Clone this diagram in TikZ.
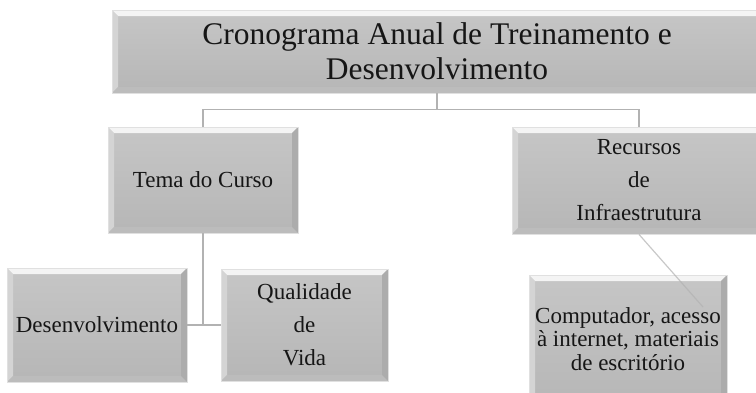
\documentclass[tikz,border=0pt]{standalone}
\usepackage{fontspec}
\setmainfont{Liberation Serif}
\definecolor{boxtop}{RGB}{198,198,198}
\definecolor{boxbot}{RGB}{182,182,182}
\definecolor{bevlight}{RGB}{244,244,244}
\definecolor{bevleft}{RGB}{212,212,212}
\definecolor{bevright}{RGB}{172,172,172}
\definecolor{bevbot}{RGB}{188,188,188}
\definecolor{linecol}{RGB}{178,178,178}
\definecolor{txt}{RGB}{22,22,22}
\tikzset{
  bevelbox/.style={rectangle, inner sep=0pt, draw=black!12, line width=0.8pt,
    top color=boxtop, bottom color=boxbot, text=txt, align=center,
    font=\fontsize{23}{33}\selectfont,
    path picture={
      \fill[bevlight] (path picture bounding box.north west) -- (path picture bounding box.north east)
        -- ([xshift=-6pt,yshift=-6pt]path picture bounding box.north east)
        -- ([xshift=6pt,yshift=-6pt]path picture bounding box.north west) -- cycle;
      \fill[bevleft] (path picture bounding box.north west) -- ([xshift=6pt,yshift=-6pt]path picture bounding box.north west)
        -- ([xshift=6pt,yshift=6pt]path picture bounding box.south west)
        -- (path picture bounding box.south west) -- cycle;
      \fill[bevright] (path picture bounding box.north east) -- ([xshift=-6pt,yshift=-6pt]path picture bounding box.north east)
        -- ([xshift=-6pt,yshift=6pt]path picture bounding box.south east)
        -- (path picture bounding box.south east) -- cycle;
      \fill[bevbot] (path picture bounding box.south west) -- ([xshift=6pt,yshift=6pt]path picture bounding box.south west)
        -- ([xshift=-6pt,yshift=6pt]path picture bounding box.south east)
        -- (path picture bounding box.south east) -- cycle;
    }},
  conn/.style={draw=linecol, line width=1.4pt}
}
\begin{document}
\begin{tikzpicture}[x=1pt,y=-1pt]
\useasboundingbox[fill=white] (0,0) rectangle (756,392);
\begin{scope}
\clip (0,0) rectangle (756,392);
\node[bevelbox, minimum width=650pt, minimum height=83pt, font=\fontsize{31.5}{35}\selectfont] (title) at (437,51.5)
  {Cronograma Anual de Treinamento e\\Desenvolvimento};
\node[bevelbox, minimum width=190pt, minimum height=106pt] (tema) at (203,180) {Tema do Curso};
\node[bevelbox, minimum width=254pt, minimum height=107pt] (rec) at (639,180.5) {Recursos\\de\\Infraestrutura};
\node[bevelbox, minimum width=180pt, minimum height=114pt] (des) at (97,325) {Desenvolvimento};
\node[bevelbox, minimum width=167pt, minimum height=112pt] (qual) at (304.5,325) {Qualidade\\de\\Vida};
\node[bevelbox, minimum width=198pt, minimum height=134pt, font=\fontsize{23}{23.5}\selectfont] (comp) at (628,342)
  {\raisebox{7pt}{\begin{tabular}{@{}c@{}}Computador, acesso\\à internet, materiais\\de escritório\end{tabular}}};
\coordinate (cfree) at (703,307);
\draw[conn] (title.south) -- ++(0,16) -| (tema.north);
\draw[conn] (title.south) -- ++(0,16) -| (rec.north);
\draw[conn] (tema.south) |- (des.east);
\draw[conn] (tema.south) |- (qual.west);
\draw[draw=linecol, line width=1.2pt, opacity=0.7] (rec.south) -- (cfree);
\end{scope}
\end{tikzpicture}
\end{document}
